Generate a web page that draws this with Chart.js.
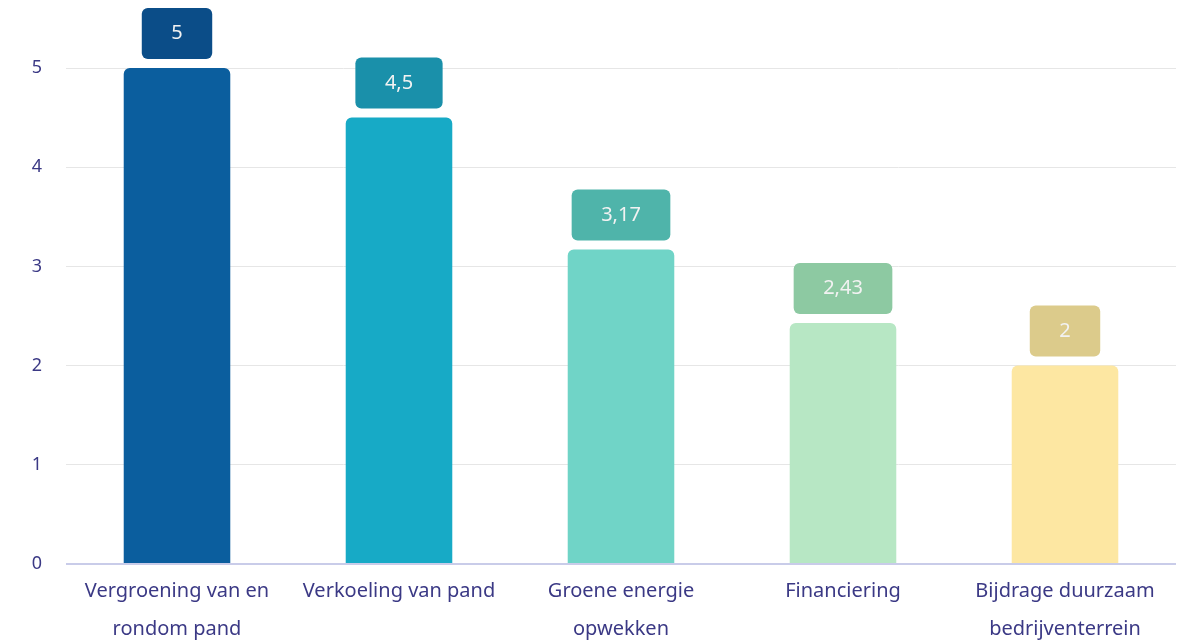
<!DOCTYPE html>
<html>
<head>
<meta charset="utf-8">
<script src="https://cdn.jsdelivr.net/npm/chart.js@4"></script>
<style>
  html, body { margin: 0; padding: 0; background: #fff; }
  #wrap { width: 1177px; height: 640px; }
</style>
</head>
<body>
<div id="wrap"><canvas id="chart"></canvas></div>
<script>
const categories = [
  ['Vergroening van en', 'rondom pand'],
  'Verkoeling van pand',
  ['Groene energie', 'opwekken'],
  'Financiering',
  ['Bijdrage duurzaam', 'bedrijventerrein']
];
const values = [5, 4.5, 3.17, 2.43, 2];
const valueLabels = ['5', '4,5', '3,17', '2,43', '2'];
const barColors = ['#0b5e9e', '#17aac6', '#70d4c7', '#b7e7c4', '#fde7a2'];
const boxColors = ['#0b4d88', '#1a90aa', '#4fb4aa', '#8dc9a2', '#dccb8b'];

const textColor = '#3b3985';
const fontFamily = '"Noto Sans", sans-serif';

// kaders met de waarde boven elke staaf
const valueBoxes = {
  id: 'valueBoxes',
  afterDatasetsDraw(chart) {
    const ctx = chart.ctx;
    const meta = chart.getDatasetMeta(0);
    ctx.save();
    ctx.font = '20px ' + fontFamily;
    ctx.textAlign = 'center';
    ctx.textBaseline = 'middle';
    meta.data.forEach((bar, i) => {
      const txt = valueLabels[i];
      const w = ctx.measureText(txt).width + 59;
      const h = 51;
      const x = bar.x - w / 2;
      const y = bar.y - 9 - h;
      ctx.fillStyle = boxColors[i];
      ctx.beginPath();
      ctx.roundRect(x, y, w, h, 6);
      ctx.fill();
      ctx.fillStyle = '#f2f2f2';
      ctx.fillText(txt, bar.x, y + h / 2);
    });
    ctx.restore();
  }
};

new Chart(document.getElementById('chart'), {
  type: 'bar',
  data: {
    labels: categories,
    datasets: [{
      data: values,
      backgroundColor: barColors,
      borderRadius: { topLeft: 6, topRight: 6 },
      borderSkipped: 'bottom',
      barPercentage: 0.96,
      categoryPercentage: 0.5
    }]
  },
  options: {
    responsive: true,
    maintainAspectRatio: false,
    animation: false,
    layout: { padding: { top: 68, right: 1, left: 0, bottom: 0 } },
    plugins: {
      legend: { display: false },
      tooltip: { enabled: false }
    },
    scales: {
      y: {
        min: 0,
        max: 5,
        ticks: {
          stepSize: 1,
          color: textColor,
          font: { family: fontFamily, size: 18 },
          padding: 24
        },
        border: { display: false },
        grid: {
          drawTicks: false,
          color: (c) => c.tick && c.tick.value === 0 ? '#c9cce9' : '#e6e6e6',
          lineWidth: (c) => c.tick && c.tick.value === 0 ? 2 : 1
        },
        afterFit(scale) { scale.width = 66; }
      },
      x: {
        ticks: {
          color: textColor,
          font: { family: fontFamily, size: 20, lineHeight: 1.9 },
          padding: 8,
          maxRotation: 0,
          autoSkip: false
        },
        border: { display: false },
        grid: { display: false, drawTicks: false },
        afterFit(scale) { scale.height = 76; }
      }
    }
  },
  plugins: [valueBoxes]
});
</script>
</body>
</html>
